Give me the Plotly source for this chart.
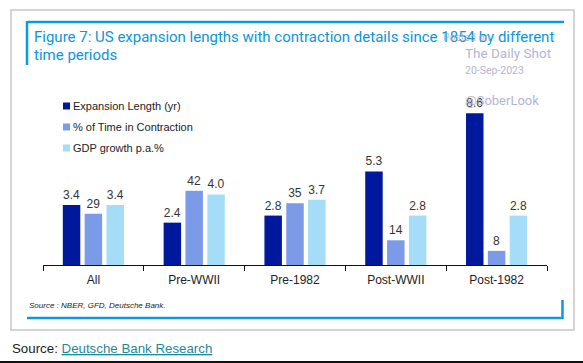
import plotly.graph_objects as go

W, H = 583, 363

categories = ["All", "Pre-WWII", "Pre-1982", "Post-WWII", "Post-1982"]
expansion_length = [3.4, 2.4, 2.8, 5.3, 8.6]
pct_contraction = [29, 42, 35, 14, 8]
gdp_growth = [3.4, 4.0, 3.7, 2.8, 2.8]

series_names = ["Expansion Length (yr)", "% of Time in Contraction", "GDP growth p.a.%"]
colors = ["#00189C", "#7B9BE8", "#A5DDF9"]

def px(x):
    return x / W

def py(y):
    return 1 - y / H

plot_top, plot_bot = 100, 265
ymax = (plot_bot - plot_top) / 17.65

fig = go.Figure()
label_font = dict(family="Liberation Sans, Arial", size=12, color="#333333")
fig.add_trace(go.Bar(x=categories, y=expansion_length, name=series_names[0],
                     marker=dict(color=colors[0], line=dict(width=0)),
                     text=[f"{v:.1f}" for v in expansion_length], textposition="outside",
                     textfont=label_font, cliponaxis=False,
                     offsetgroup="a", alignmentgroup="g", yaxis="y"))
fig.add_trace(go.Bar(x=categories, y=pct_contraction, name=series_names[1],
                     marker=dict(color=colors[1], line=dict(width=0)),
                     text=[f"{v:d}" for v in pct_contraction], textposition="outside",
                     textfont=label_font, cliponaxis=False,
                     offsetgroup="b", alignmentgroup="g", yaxis="y2"))
fig.add_trace(go.Bar(x=categories, y=gdp_growth, name=series_names[2],
                     marker=dict(color=colors[2], line=dict(width=0)),
                     text=[f"{v:.1f}" for v in gdp_growth], textposition="outside",
                     textfont=label_font, cliponaxis=False,
                     offsetgroup="c", alignmentgroup="g", yaxis="y"))

shapes = []
# gray outer frame
shapes.append(dict(type="rect", xref="paper", yref="paper", x0=px(11), x1=px(574), y0=py(330), y1=py(10),
                   line=dict(color="#C8C8C8", width=1.5), layer="below"))
blue = "#0A9BDE"
shapes.append(dict(type="line", xref="paper", yref="paper", x0=px(27), x1=px(564), y0=py(22), y1=py(22),
                   line=dict(color=blue, width=2.5)))
shapes.append(dict(type="line", xref="paper", yref="paper", x0=px(27), x1=px(27), y0=py(21), y1=py(65),
                   line=dict(color=blue, width=2.5)))
shapes.append(dict(type="line", xref="paper", yref="paper", x0=px(27), x1=px(563), y0=py(318), y1=py(318),
                   line=dict(color=blue, width=2.5)))
shapes.append(dict(type="line", xref="paper", yref="paper", x0=px(562.5), x1=px(562.5), y0=py(300), y1=py(319),
                   line=dict(color=blue, width=2.5)))
# bottom black line
shapes.append(dict(type="line", xref="paper", yref="paper", x0=0, x1=1, y0=py(362), y1=py(362),
                   line=dict(color="#111111", width=2)))

annotations = []
# legend (manual, small squares)
leg_y = [106, 127, 148]
for name, c, yy in zip(series_names, colors, leg_y):
    shapes.append(dict(type="rect", xref="paper", yref="paper", x0=px(63), x1=px(70), y0=py(yy + 3.5), y1=py(yy - 3.5),
                       fillcolor=c, line=dict(width=0)))
    annotations.append(dict(text=name, xref="paper", yref="paper", x=px(71), y=py(yy), xanchor="left", yanchor="middle",
                            showarrow=False, font=dict(family="Liberation Sans, Arial", size=11, color="#222222")))

# title (two lines)
title_font = dict(family="Roboto", size=15, color="#0A96D8")
annotations.append(dict(text="Figure 7: US expansion lengths with contraction details since 1854 by different",
                        xref="paper", yref="paper", x=px(32), y=py(37), xanchor="left", yanchor="middle",
                        showarrow=False, font=title_font))
annotations.append(dict(text="time periods",
                        xref="paper", yref="paper", x=px(32), y=py(55), xanchor="left", yanchor="middle",
                        showarrow=False, font=title_font))
# watermark
wm = "#B4B4D6"
annotations.append(dict(text="Posted on", xref="paper", yref="paper", x=px(441), y=py(37), xanchor="left", yanchor="middle",
                        showarrow=False, font=dict(family="Roboto", size=10.5, color="rgba(170,170,200,0.8)")))
annotations.append(dict(text="The Daily Shot", xref="paper", yref="paper", x=px(463), y=py(53), xanchor="left", yanchor="middle",
                        showarrow=False, font=dict(family="Roboto", size=13.5, color=wm)))
annotations.append(dict(text="20-Sep-2023", xref="paper", yref="paper", x=px(463), y=py(71), xanchor="left", yanchor="middle",
                        showarrow=False, font=dict(family="Roboto", size=10.5, color=wm)))
annotations.append(dict(text="@SoberLook", xref="paper", yref="paper", x=px(463), y=py(100), xanchor="left", yanchor="middle",
                        showarrow=False, font=dict(family="Roboto", size=13, color=wm)))
# source lines
annotations.append(dict(text="<i>Source : NBER, GFD, Deutsche Bank.</i>", xref="paper", yref="paper", x=px(27), y=py(305),
                        xanchor="left", yanchor="middle", showarrow=False,
                        font=dict(family="Liberation Sans, Arial", size=8, color="#222222")))
annotations.append(dict(text="Source: <span style='color:#1B8A9C;text-decoration:underline'>Deutsche Bank Research</span>",
                        xref="paper", yref="paper", x=px(10), y=py(348), xanchor="left", yanchor="middle", showarrow=False,
                        font=dict(family="Liberation Sans, Arial", size=13.3, color="#222222")))

fig.update_layout(
    width=W, height=H,
    margin=dict(l=0, r=0, t=0, b=0),
    paper_bgcolor="white", plot_bgcolor="white",
    barmode="group", bargap=0.35, bargroupgap=0.2,
    showlegend=False,
    xaxis=dict(domain=[px(43), px(547)], showline=True, linecolor="#111111", linewidth=1.3,
               ticks="outside", tickson="boundaries", ticklen=5, tickcolor="#111111", tickwidth=1.3,
               ticklabelstandoff=3,
               showgrid=False, tickfont=dict(family="Liberation Sans, Arial", size=12, color="#222222")),
    yaxis=dict(domain=[py(plot_bot), py(plot_top)], range=[0, ymax], visible=False, showgrid=False),
    yaxis2=dict(domain=[py(plot_bot), py(plot_top)], range=[0, ymax * 10], visible=False, overlaying="y",
                showgrid=False),
    shapes=shapes, annotations=annotations,
)

fig.write_html("out.html", config={"displayModeBar": False},
               post_script="document.body.style.margin='0';document.body.style.overflow='hidden';")
